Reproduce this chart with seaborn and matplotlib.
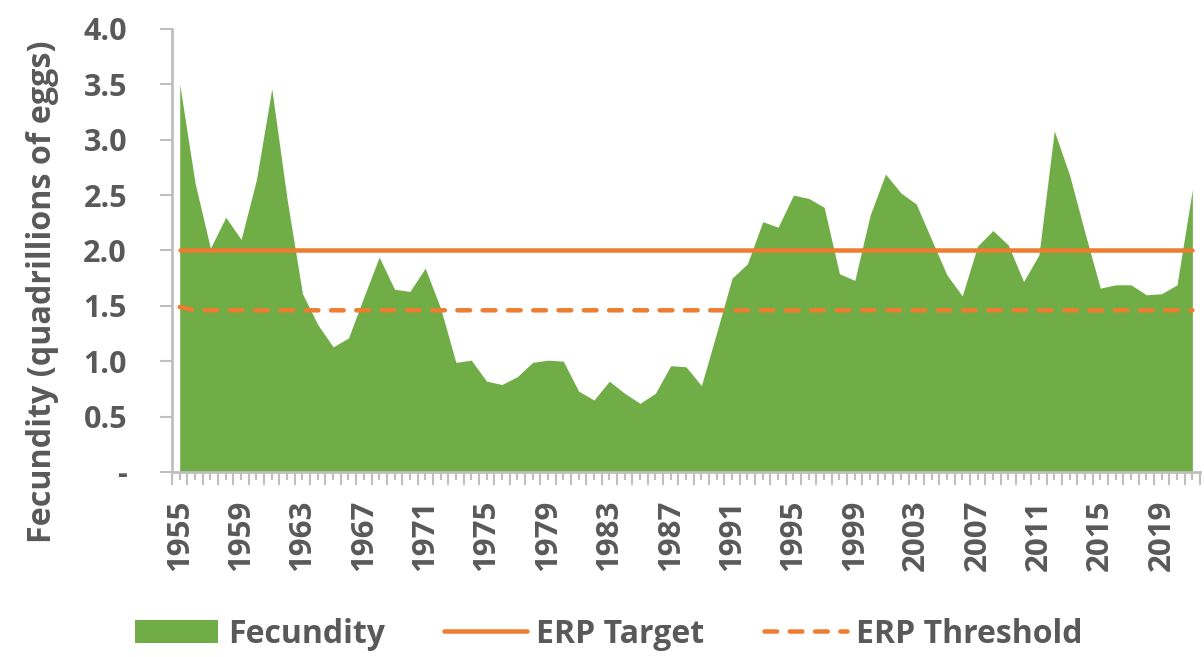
import matplotlib
matplotlib.use("Agg")
import matplotlib.pyplot as plt
import seaborn as sns
import numpy as np
import pandas as pd
from matplotlib.patches import Patch
from matplotlib.lines import Line2D
from matplotlib.ticker import FuncFormatter

years = list(range(1955, 2022))
fecundity = [3.50, 2.61, 2.02, 2.30, 2.10, 2.64, 3.46, 2.46, 1.61, 1.33,
             1.13, 1.21, 1.58, 1.94, 1.65, 1.63, 1.84, 1.48, 0.99, 1.01,
             0.82, 0.79, 0.86, 0.99, 1.01, 1.00, 0.73, 0.65, 0.82, 0.71,
             0.62, 0.71, 0.96, 0.95, 0.78, 1.26, 1.75, 1.88, 2.26, 2.21,
             2.50, 2.47, 2.39, 1.79, 1.73, 2.32, 2.69, 2.52, 2.42, 2.10,
             1.78, 1.59, 2.04, 2.18, 2.05, 1.72, 1.96, 3.08, 2.68, 2.16,
             1.66, 1.69, 1.69, 1.60, 1.61, 1.69, 2.55]
erp_target = [2.0] * len(years)
erp_threshold = [1.49] + [1.46] * (len(years) - 1)
ytick_values = [0.0, 0.5, 1.0, 1.5, 2.0, 2.5, 3.0, 3.5, 4.0]
xlabel_years = years[::4]

GREEN = "#70AD47"
ORANGE = "#ED7D31"
TEXT = "#595959"
AXIS = "#BFBFBF"

sns.set_theme(style="white")
plt.rcParams["font.family"] = ["Open Sans", "DejaVu Sans"]
plt.rcParams["font.weight"] = "bold"

df = pd.DataFrame({"year": years, "fecundity": fecundity,
                   "target": erp_target, "threshold": erp_threshold})

fig = plt.figure(figsize=(12.04, 6.57), dpi=100)
ax = fig.add_axes([0.1429, 0.2816, 0.8538, 0.6743])

ax.fill_between(df["year"], 0, df["fecundity"], color=GREEN, linewidth=0, zorder=1)
sns.lineplot(data=df, x="year", y="target", ax=ax, color=ORANGE, linewidth=3.25, zorder=3)
sns.lineplot(data=df, x="year", y="threshold", ax=ax, color=ORANGE, linewidth=3.25, zorder=3)
lines = ax.get_lines()
lines[0].set_solid_capstyle("round")
lines[1].set_dashes((2.8, 2.8))
lines[1].set_dash_capstyle("round")

ax.set_xlim(1954.5, 2021.5)
ax.set_ylim(0, 4.0)

ax.set_yticks(ytick_values)
ax.yaxis.set_major_formatter(FuncFormatter(lambda v, p: "-" if abs(v) < 1e-9 else f"{v:.1f}"))

ax.set_xticks(years)
ax.set_xticklabels([str(y) if y in xlabel_years else "" for y in years], rotation=90)
ax.set_xticks([y + 0.5 for y in years] + [1954.5], minor=True)

ax.tick_params(axis="y", which="major", left=True, length=8.4, width=1.5, color=AXIS,
               labelsize=22, labelcolor=TEXT, pad=24)
ax.tick_params(axis="x", which="major", bottom=True, length=6, width=1.5, color=AXIS,
               labelsize=22.5, labelcolor=TEXT, pad=14)
ax.tick_params(axis="x", which="minor", bottom=True, length=9, width=1.5, color=AXIS)

for lab in ax.get_xticklabels() + ax.get_yticklabels():
    lab.set_fontweight("bold")

for s in ["top", "right"]:
    ax.spines[s].set_visible(False)
for s in ["left", "bottom"]:
    ax.spines[s].set_color(AXIS)
    ax.spines[s].set_linewidth(2)

ax.set_xlabel("")
ax.set_ylabel("Fecundity (quadrillions of eggs)", fontsize=23.2, color=TEXT,
              fontweight="bold")
ax.yaxis.set_label_coords(-0.110, 0.406)
ax.grid(False)

handles = [Patch(facecolor=GREEN, edgecolor="none", label="Fecundity"),
           Line2D([0], [0], color=ORANGE, lw=3.25, solid_capstyle="round", label="ERP Target"),
           Line2D([0], [0], color=ORANGE, lw=3.25, dashes=(2.8, 2.8), dash_capstyle="round",
                  label="ERP Threshold")]
leg = fig.legend(handles=handles, loc="center", bbox_to_anchor=(0.5058, 0.035), ncol=3,
                 frameon=False, fontsize=23, handlelength=2.6, handleheight=0.75,
                 handletextpad=0.3, columnspacing=1.85)
for t in leg.get_texts():
    t.set_color(TEXT)
    t.set_fontweight("bold")

fig.savefig("out.png", dpi=100)
